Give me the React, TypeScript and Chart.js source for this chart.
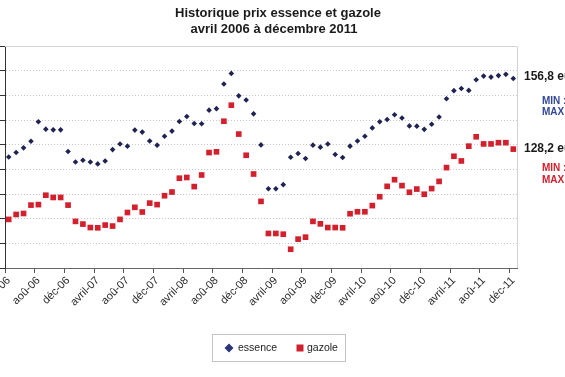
import React, { useEffect, useRef } from 'react';
import { Chart, registerables } from 'chart.js';

Chart.register(...registerables);

// ---- data ----
const MONTH_NAMES = ['janv', 'févr', 'mars', 'avril', 'mai', 'juin', 'juil', 'aoû', 'sept', 'oct', 'nov', 'déc'];
const START_YEAR = 2006;
const START_MONTH = 3; // avril
const MONTH_COUNT = 69; // avril 2006 .. décembre 2011
const categories: string[] = Array.from({ length: MONTH_COUNT }, (_, i) => {
  const m = (START_MONTH + i) % 12;
  const y = START_YEAR + Math.floor((START_MONTH + i) / 12);
  return `${MONTH_NAMES[m]}-${String(y).slice(2)}`;
});
const TICK_EVERY = 4;

const essence = [
  125.0, 126.8, 128.7, 131.4, 139.3, 136.3, 136.0, 136.0, 127.2, 123.0, 123.7, 123.0, 122.2, 123.4, 128.0, 130.3, 129.4, 135.9, 135.1, 131.5, 129.8, 133.4, 135.5,
  139.4, 141.4, 138.6, 138.5, 144.0, 144.6, 154.6, 158.9, 149.8, 148.1, 142.5, 129.9, 112.1, 112.1, 113.8, 124.9, 126.4, 124.4, 129.8, 129.0, 130.3, 126.0, 124.8,
  129.4, 131.5, 133.4, 136.8, 139.3, 140.2, 142.1, 140.8, 137.6, 137.5, 136.2, 138.3, 141.2, 148.6, 151.9, 152.8, 152.0, 156.3, 157.8, 157.4, 158.0, 158.5, 156.8,
];
const gazole = [
  99.7, 101.7, 102.1, 105.5, 105.7, 109.5, 108.6, 108.6, 105.5, 98.9, 97.8, 96.4, 96.3, 97.4, 97.0, 99.7, 102.5, 104.6, 102.7, 106.3, 105.7, 109.3, 110.8,
  116.4, 116.7, 113.0, 117.7, 126.8, 127.1, 139.5, 146.0, 134.3, 125.7, 118.1, 107.0, 94.0, 94.0, 93.7, 87.6, 91.7, 92.5, 98.9, 97.9, 96.4, 96.4, 96.3,
  102.0, 102.8, 102.8, 105.3, 108.9, 113.1, 115.8, 113.4, 110.7, 112.0, 109.9, 112.2, 115.1, 120.7, 125.3, 123.4, 129.4, 133.2, 130.3, 130.3, 130.8, 130.8, 128.2,
];

const Y_MIN = 80;
const Y_MAX = 170;
const Y_STEP = 10;

const TITLE_LINES = ['Historique prix essence et gazole', 'avril 2006 à décembre 2011'];
const SERIES_NAMES = ['essence', 'gazole'];
const ESSENCE_NOTE = ['156,8 euros', 'MIN : 112,1', 'MAX : 158,9'];
const GAZOLE_NOTE = ['128,2 euros', 'MIN : 87,6', 'MAX : 146,0'];

const NAVY = '#1e2352';
const LEG_NAVY = '#2b3677';
const BLUE_TXT = '#34479a';
const RED = '#d3202d';

const SANS = "'Liberation Sans', Arial, sans-serif";

const decoPlugin = {
  id: 'deco',
  beforeDatasetsDraw(chart: any) {
    const { ctx, chartArea: a } = chart;
    ctx.save();
    ctx.strokeStyle = '#d4d4d4';
    ctx.lineWidth = 1;
    ctx.beginPath();
    ctx.moveTo(a.left, Math.round(a.top) + 0.5);
    ctx.lineTo(Math.round(a.right) + 0.5, Math.round(a.top) + 0.5);
    ctx.lineTo(Math.round(a.right) + 0.5, a.bottom);
    ctx.stroke();
    ctx.restore();
  },
  afterDraw(chart: any) {
    const { ctx } = chart;
    const yS = chart.scales.y;
    ctx.save();
    // title
    ctx.fillStyle = '#1a1a1a';
    ctx.textAlign = 'center';
    ctx.textBaseline = 'alphabetic';
    ctx.font = `bold 13px ${SANS}`;
    ctx.fillText(TITLE_LINES[0], 278, 17);
    ctx.fillText(TITLE_LINES[1], 274, 33);

    // right notes
    ctx.textAlign = 'left';
    ctx.textBaseline = 'middle';
    const eY = yS.getPixelForValue(essence[essence.length - 1]);
    const gY = yS.getPixelForValue(gazole[gazole.length - 1]);
    ctx.font = `bold 12px ${SANS}`;
    ctx.fillStyle = '#1a1a1a';
    ctx.fillText(ESSENCE_NOTE[0], 524, eY - 1.5);
    ctx.fillText(GAZOLE_NOTE[0], 524, gY);
    ctx.font = `bold 10px ${SANS}`;
    ctx.fillStyle = BLUE_TXT;
    ctx.fillText(ESSENCE_NOTE[1], 542, eY + 22.5);
    ctx.fillText(ESSENCE_NOTE[2], 542, eY + 34);
    ctx.fillStyle = RED;
    ctx.fillText(GAZOLE_NOTE[1], 542, gY + 19);
    ctx.fillText(GAZOLE_NOTE[2], 542, gY + 31.5);

    // legend box
    ctx.strokeStyle = '#c4c4c4';
    ctx.lineWidth = 1;
    ctx.strokeRect(212.5, 334.5, 133, 27);
    // diamond
    ctx.fillStyle = LEG_NAVY;
    ctx.beginPath();
    ctx.moveTo(229, 343.5);
    ctx.lineTo(233.5, 348);
    ctx.lineTo(229, 352.5);
    ctx.lineTo(224.5, 348);
    ctx.closePath();
    ctx.fill();
    // square
    ctx.fillStyle = RED;
    ctx.fillRect(296.5, 344.5, 7, 7);
    ctx.fillStyle = '#222';
    ctx.font = `10.5px ${SANS}`;
    ctx.textBaseline = 'middle';
    ctx.fillText(SERIES_NAMES[0], 238, 348);
    ctx.fillText(SERIES_NAMES[1], 307, 348);
    ctx.restore();
  },
};

export default function App() {
  const ref = useRef<HTMLCanvasElement>(null);
  useEffect(() => {
    document.body.style.margin = '0';
    const chart = new Chart(ref.current as HTMLCanvasElement, {
      type: 'line',
      data: {
        labels: categories,
        datasets: [
          {
            label: SERIES_NAMES[0],
            data: essence,
            showLine: false,
            pointStyle: 'rectRot',
            pointRadius: 2.8,
            pointBackgroundColor: NAVY,
            pointBorderColor: NAVY,
            pointBorderWidth: 0,
            borderColor: NAVY,
            backgroundColor: NAVY,
          },
          {
            label: SERIES_NAMES[1],
            data: gazole,
            showLine: false,
            pointStyle: 'rect',
            pointRadius: 4,
            pointBackgroundColor: RED,
            pointBorderColor: RED,
            pointBorderWidth: 0,
            borderColor: RED,
            backgroundColor: RED,
          },
        ],
      },
      options: {
        responsive: false,
        animation: false,
        layout: { padding: { top: 46, right: 48, left: 0, bottom: 0 } },
        plugins: {
          legend: { display: false },
          title: { display: false },
          tooltip: { enabled: false },
        },
        scales: {
          x: {
            type: 'category',
            offset: true,
            grid: {
              display: true,
              offset: true,
              drawOnChartArea: false,
              drawTicks: true,
              tickLength: 5,
              tickColor: (c: any) => (c.index % TICK_EVERY === 0 ? '#555' : 'rgba(0,0,0,0)'),
            },
            border: { display: true, color: '#666', width: 1 },
            ticks: {
              autoSkip: false,
              minRotation: 45,
              maxRotation: 45,
              padding: 1,
              color: '#2a2a2a',
              font: { family: SANS, size: 11 },
              callback: (_v: any, i: number) => (i % TICK_EVERY === 0 ? categories[i] : ''),
            },
            afterFit: (s: any) => {
              s.height = 109;
              s.paddingLeft = 0;
              s.paddingRight = 0;
            },
          },
          y: {
            min: Y_MIN,
            max: Y_MAX,
            ticks: { stepSize: Y_STEP, display: false },
            grid: {
              color: '#c8c8c8',
              tickColor: '#333',
              tickLength: 5,
              drawTicks: true,
            },
            border: { display: true, color: '#333', width: 1, dash: [1, 2] },
            afterFit: (s: any) => {
              s.width = 5;
            },
          },
        },
      },
      plugins: [decoPlugin],
    } as any);
    return () => chart.destroy();
  }, []);
  return (
    <div style={{ position: 'fixed', left: 0, top: 0, width: 565, height: 377, background: '#fff' }}>
      <canvas ref={ref} width={565} height={377} style={{ display: 'block' }} />
    </div>
  );
}
